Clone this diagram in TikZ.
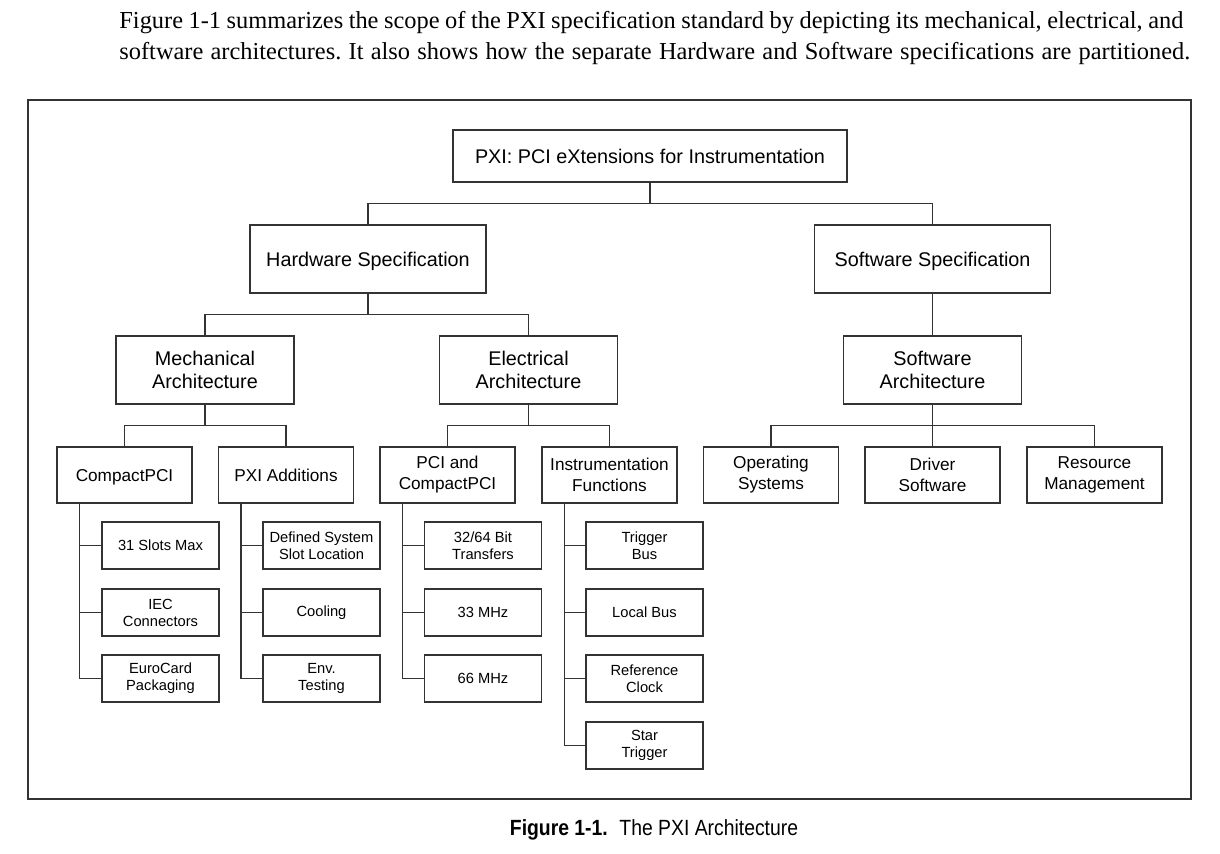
\documentclass[tikz,border=0pt]{standalone}
\usepackage{fontspec}
\setmainfont{Liberation Serif}
\newfontfamily\hv{Liberation Sans}
\usetikzlibrary{calc}
\tikzset{
  ln/.style={draw=black!80, line width=0.65pt},
  bigbox/.style={ln, rectangle, inner sep=0pt, align=center, font=\hv\fontsize{9.9pt}{11.2pt}\selectfont, text=black},
  midbox/.style={ln, rectangle, inner sep=0pt, align=center, minimum width=67.5pt, minimum height=28pt, font=\hv\fontsize{8.6pt}{10.5pt}\selectfont, text=black},
  leafbox/.style={ln, rectangle, inner sep=0pt, align=center, minimum width=58.5pt, minimum height=23.5pt, font=\hv\fontsize{7.35pt}{8.5pt}\selectfont, text=black},
  onebig/.style={text height=7.1pt, text depth=0pt},
  onemid/.style={text height=6.2pt, text depth=0pt},
  conn/.style={draw=black!80, line width=0.65pt},
}
\begin{document}
\frenchspacing
\begin{tikzpicture}[x=0.5pt, y=-0.5pt]
\useasboundingbox (0,0) rectangle (1220,854);
% header text
\node[anchor=base west, inner sep=0pt, font=\fontsize{12.2pt}{15pt}\selectfont] (h1) at (119,29)
  {\makebox[532pt][s]{Figure 1-1 summarizes the scope of the PXI specification standard by depicting its mechanical, electrical, and}};
\node[anchor=base west, inner sep=0pt, font=\fontsize{12.2pt}{15pt}\selectfont] (h2) at (119,60)
  {\makebox[535.5pt][s]{software architectures. It also shows how the separate Hardware and Software specifications are partitioned.}};
% frame
\draw[draw=black!80, line width=0.85pt] (28,100) rectangle (1191,799);
% level 0
\node[bigbox, onebig, minimum width=197pt, minimum height=26pt] (top) at (650,156) {PXI: PCI eXtensions for Instrumentation};
% level 1
\node[bigbox, onebig, minimum width=118pt, minimum height=34pt] (hw) at (368,259) {Hardware Specification};
\node[bigbox, onebig, minimum width=118pt, minimum height=34pt] (sw) at (932.5,259) {Software Specification};
% level 2
\node[bigbox, minimum width=89pt, minimum height=34pt] (mech) at (205,370) {Mechanical\\Architecture};
\node[bigbox, minimum width=89pt, minimum height=34pt] (elec) at (528.5,370) {Electrical\\Architecture};
\node[bigbox, minimum width=89pt, minimum height=34pt] (swa) at (932.5,370) {Software\\Architecture};
% level 3
\node[midbox, onemid] (cpci) at (124.5,475) {CompactPCI};
\node[midbox, onemid] (pxia) at (286,475) {PXI Additions};
\node[midbox] (pci) at (447.5,475) {PCI and\\CompactPCI};
\node[midbox] (ins) at (609.5,475) {Instrumentation\\Functions};
\node[midbox] (os) at (771,475) {Operating\\Systems};
\node[midbox] (drv) at (932.5,475) {Driver\\Software};
\node[midbox] (res) at (1094.5,475) {Resource\\Management};
% leaves
\node[leafbox] (a1) at (160.5,545.5) {31 Slots Max};
\node[leafbox] (a2) at (160.5,612.5) {IEC\\Connectors};
\node[leafbox] (a3) at (160.5,678.5) {EuroCard\\Packaging};
\node[leafbox] (b1) at (321.5,545.5) {Defined System\\Slot Location};
\node[leafbox] (b2) at (321.5,612.5) {Cooling};
\node[leafbox] (b3) at (321.5,678.5) {Env.\\Testing};
\node[leafbox] (c1) at (483,545.5) {32/64 Bit\\Transfers};
\node[leafbox] (c2) at (483,612.5) {33 MHz};
\node[leafbox] (c3) at (483,678.5) {66 MHz};
\node[leafbox] (d1) at (644.5,545.5) {Trigger\\Bus};
\node[leafbox] (d2) at (644.5,612.5) {Local Bus};
\node[leafbox] (d3) at (644.5,678.5) {Reference\\Clock};
\node[leafbox] (d4) at (644.5,745.5) {Star\\Trigger};
% connectors
\draw[conn] (top.south) -- ++(0,21) -| (hw.north);
\draw[conn] (top.south) -- ++(0,21) -| (sw.north);
\draw[conn] (hw.south) -- ++(0,21) -| (mech.north);
\draw[conn] (hw.south) -- ++(0,21) -| (elec.north);
\draw[conn] (sw.south) -- (swa.north);
\draw[conn] (mech.south) -- ++(0,21) -| (cpci.north);
\draw[conn] (mech.south) -- ++(0,21) -| (pxia.north);
\draw[conn] (elec.south) -- ++(0,21) -| (pci.north);
\draw[conn] (elec.south) -- ++(0,21) -| (ins.north);
\draw[conn] (swa.south) -- ++(0,21) -| (os.north);
\draw[conn] (swa.south) -- (drv.north);
\draw[conn] (swa.south) -- ++(0,21) -| (res.north);
\foreach \p/\l in {cpci/a, pxia/b, pci/c}{
  \draw[conn] ([xshift=11.5pt]\p.south west) |- (\l3.west);
  \draw[conn] ([xshift=11.5pt]\p.south west) |- (\l1.west);
  \draw[conn] ([xshift=11.5pt]\p.south west) |- (\l2.west);
}
\draw[conn] ([xshift=11.5pt]ins.south west) |- (d4.west);
\draw[conn] ([xshift=11.5pt]ins.south west) |- (d1.west);
\draw[conn] ([xshift=11.5pt]ins.south west) |- (d2.west);
\draw[conn] ([xshift=11.5pt]ins.south west) |- (d3.west);
% caption
\node[anchor=base, inner sep=0pt, font=\hv\fontsize{11pt}{13pt}\selectfont] (cap) at (654,835)
  {\scalebox{0.88}[1]{\textbf{Figure 1-1.}\hspace{0.6em}The PXI Architecture}};
\end{tikzpicture}
\end{document}
